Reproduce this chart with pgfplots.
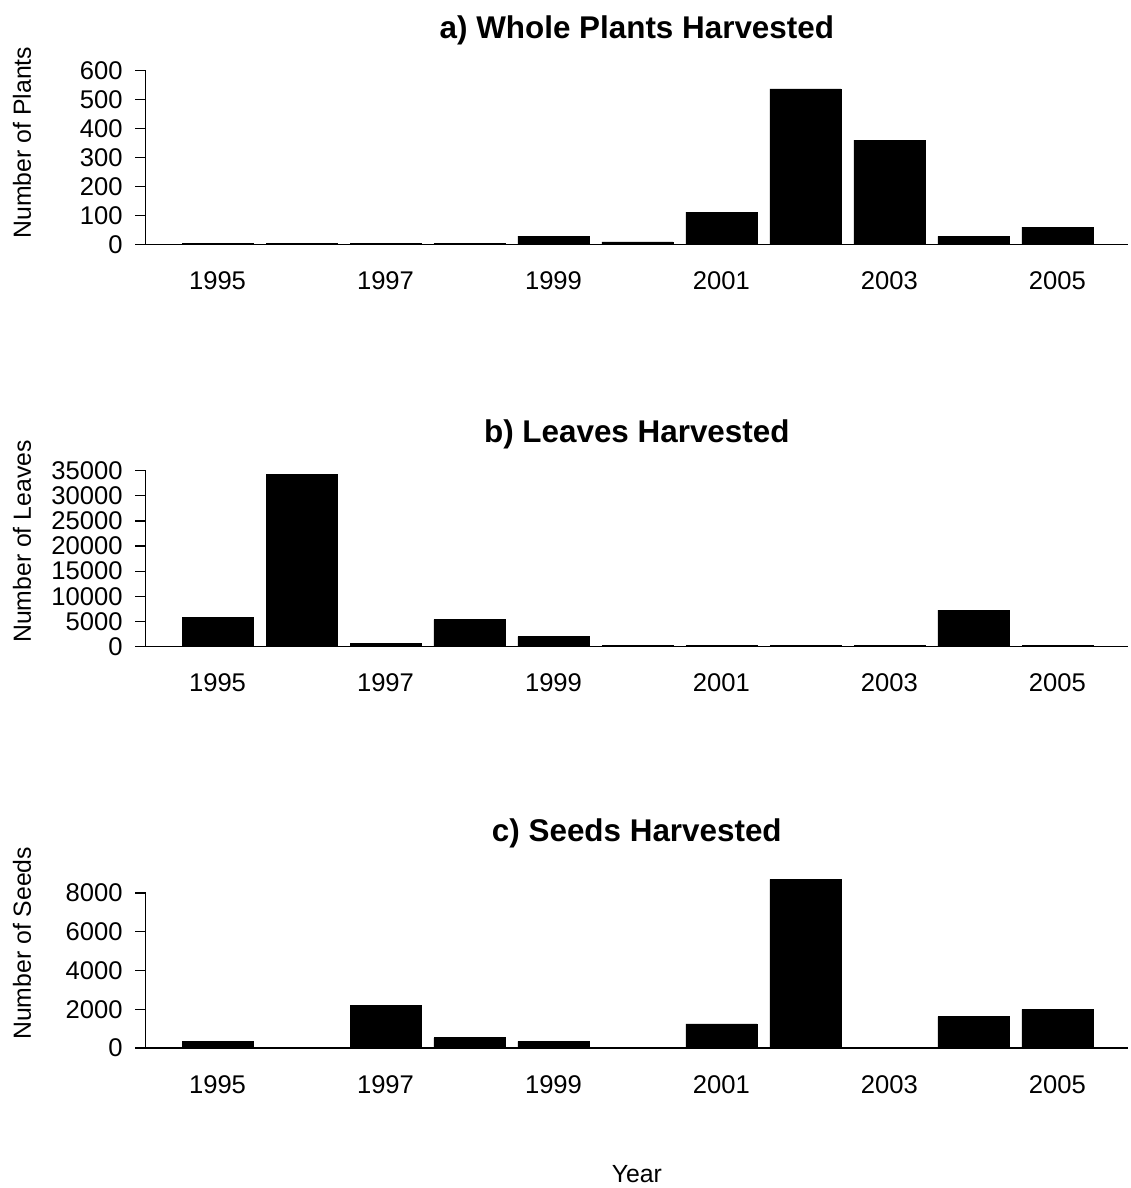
\documentclass[border=0pt]{standalone}
\usepackage{fontspec}
\setmainfont{Liberation Sans}
\usepackage{pgfplots}
\pgfplotsset{compat=1.18}
\pgfplotsset{
  panel/.style={
    scale only axis, width=491.15pt,
    xmin=1994.145, xmax=2005.84, ymin=0,
    axis x line=bottom, axis y line=left,
    axis line style={line width=0.65pt, -},
    clip=false,
    ybar, bar width=35.5pt,
    xtick={1995,1997,...,2005},
    xtick style={draw=none},
    tick align=outside, major tick length=5.35pt,
    ytick style={line width=0.65pt, black},
    scaled y ticks=false,
    /pgf/number format/1000 sep={},
    /pgf/number format/assume math mode=true,
    tick label style={font=\fontsize{12.8}{15}\selectfont},
    xticklabel style={inner sep=0pt, anchor=north, yshift=-8.15pt},
    yticklabel style={inner sep=0pt, anchor=east, xshift=-6pt},
    label style={font=\fontsize{12.4}{14}\selectfont},
    title style={font=\fontsize{15.7}{18}\selectfont\bfseries, anchor=center},
  },
  barstyle/.style={fill=black, draw=black, line width=0.4pt},
}
\begin{document}
\begin{tikzpicture}
\path[use as bounding box] (0,0) rectangle (565pt,-594pt);

% a) Whole plants
\begin{axis}[panel, at={(72.85pt,-122.15pt)}, anchor=south west,
  height=86.8pt, ymax=600, ytick={0,100,...,600},
  title={a) Whole Plants Harvested},
  title style={at={(rel axis cs:0.5,1)}, yshift=14.3pt},
  ylabel={Number of Plants},
  ylabel style={at={(axis description cs:-0.126,0.586)}, anchor=center}]
\addplot[barstyle] coordinates {
(1995,2) (1996,2) (1997,2) (1998,2) (1999,28) (2000,8)
(2001,111) (2002,537) (2003,360) (2004,27) (2005,59)};
\end{axis}

% b) Leaves
\begin{axis}[panel, at={(72.85pt,-323.25pt)}, anchor=south west,
  height=87.9pt, ymax=35000, ytick={0,5000,...,35000},
  title={b) Leaves Harvested},
  title style={at={(rel axis cs:0.5,1)}, yshift=12.4pt},
  ylabel={Number of Leaves},
  ylabel style={at={(axis description cs:-0.126,0.597)}, anchor=center}]
\addplot[barstyle] coordinates {
(1995,5750) (1996,34250) (1997,600) (1998,5360) (1999,1980) (2000,150)
(2001,150) (2002,150) (2003,150) (2004,7260) (2005,150)};
\end{axis}

% c) Seeds
\begin{axis}[panel, at={(72.85pt,-523.95pt)}, anchor=south west,
  height=77.45pt, ymax=8000, ytick={0,2000,...,8000},
  title={c) Seeds Harvested},
  title style={at={(rel axis cs:0.5,1)}, yshift=24pt},
  ylabel={Number of Seeds},
  ylabel style={at={(axis description cs:-0.126,0.675)}, anchor=center},
  xlabel={Year},
  xlabel style={at={(axis description cs:0.5,-0.814)}, anchor=center}]
\addplot[barstyle] coordinates {
(1995,340) (1996,30) (1997,2200) (1998,520) (1999,340) (2000,30)
(2001,1240) (2002,8710) (2003,30) (2004,1610) (2005,1990)};
\end{axis}
\end{tikzpicture}
\end{document}
